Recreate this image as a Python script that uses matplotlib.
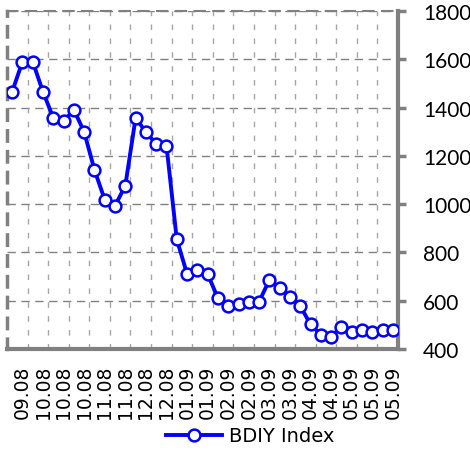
import numpy as np
import matplotlib
matplotlib.use("Agg")
import matplotlib.pyplot as plt

# BDIY Index, weekly points (Sep 2008 - May 2009)
bdiy = [1465, 1590, 1590, 1465, 1357, 1343, 1391, 1299, 1142, 1018,
        993, 1077, 1357, 1299, 1249, 1242, 854, 711, 727, 711,
        610, 578, 586, 596, 596, 686, 651, 617, 578, 502,
        460, 451, 492, 469, 478, 469, 478, 478]
tick_labels = ["09.08", "10.08", "10.08", "10.08", "11.08", "11.08", "12.08",
               "12.08", "01.09", "01.09", "02.09", "02.09", "03.09", "03.09",
               "04.09", "04.09", "05.09", "05.09", "05.09"]
y_ticks = [400, 600, 800, 1000, 1200, 1400, 1600, 1800]

GREY = "#808080"
plt.rcParams["font.family"] = ["Lato", "DejaVu Sans"]

fig = plt.figure(figsize=(4.70, 4.52), dpi=100)
ax = fig.add_axes([7 / 470, 1 - 350 / 452, 391 / 470, 338 / 452])

x = np.arange(len(bdiy))
ax.plot(x, bdiy, color="#0000FF", lw=2.8, marker="o", ms=8.5,
        mfc="white", mec="#0000FF", mew=1.8, label="BDIY Index",
        solid_joinstyle="round", zorder=3)

ax.set_xlim(-0.5, len(bdiy) - 0.5)
ax.set_ylim(400, 1800)

# horizontal grid
for v in y_ticks[1:]:
    ax.axhline(v, color=GREY, lw=1.0, ls=(0, (6, 4)), zorder=1)
# vertical grid every two points
for b in np.arange(1.5, len(bdiy) - 0.5, 2):
    ax.axvline(b, color="#a6a6a6", lw=1.0, ls=(0, (4, 6)), zorder=1)

ax.set_xticks(np.arange(1, len(bdiy), 2))
ax.set_xticklabels(tick_labels, rotation=90, fontsize=13.5,
                   family="DejaVu Sans")
ax.tick_params(axis="x", length=0, pad=11)

ax.yaxis.tick_right()
ax.set_yticks(y_ticks)
ax.set_yticklabels([str(v) for v in y_ticks], fontsize=15)
ax.tick_params(axis="y", length=6, width=2.5, color=GREY, pad=12,
               direction="out")

ax.spines["right"].set_color(GREY)
ax.spines["right"].set_linewidth(3)
ax.spines["bottom"].set_color(GREY)
ax.spines["bottom"].set_linewidth(3)
ax.spines["left"].set_color(GREY)
ax.spines["left"].set_linewidth(2.5)
ax.spines["left"].set_linestyle((0, (3, 3)))
ax.spines["top"].set_color(GREY)
ax.spines["top"].set_linewidth(1.5)
ax.spines["top"].set_linestyle((0, (5, 4)))

fig.legend(loc="center", bbox_to_anchor=(250 / 470, 1 - 437 / 452),
           frameon=False, fontsize=14, handlelength=2.9, handletextpad=0.35,
           prop={"family": "DejaVu Sans", "size": 14})

fig.savefig("out.png", dpi=100)
